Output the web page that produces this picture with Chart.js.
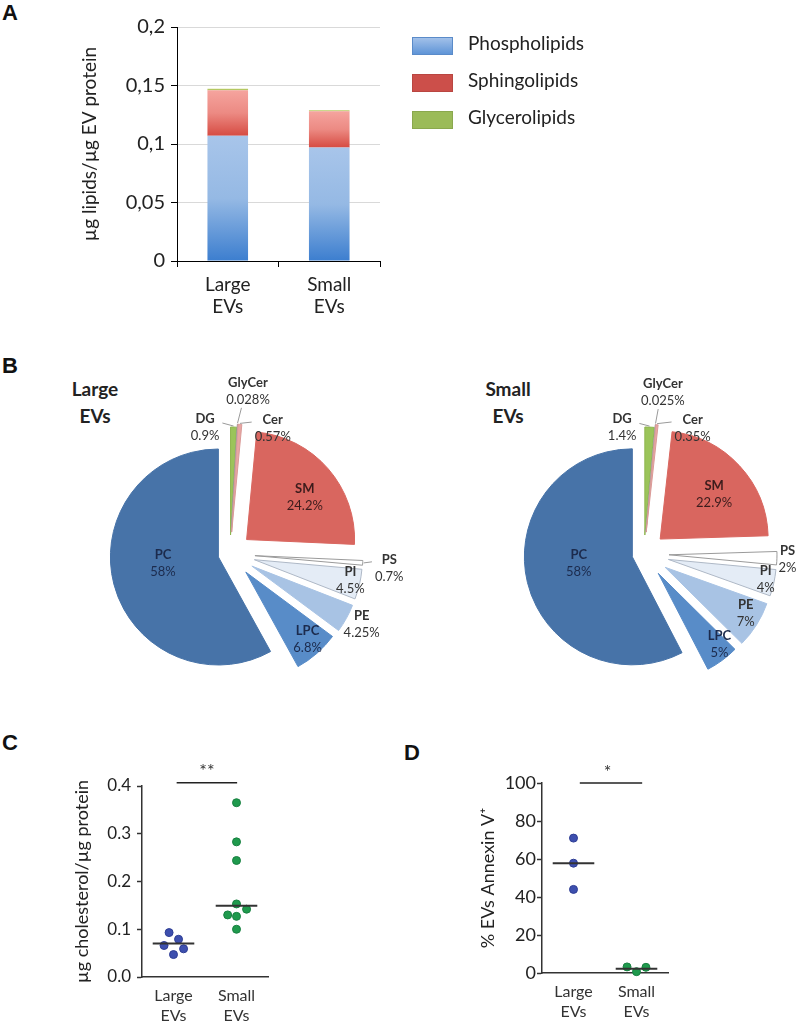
<!DOCTYPE html>
<html><head><meta charset="utf-8">
<script src="https://cdn.jsdelivr.net/npm/chart.js@4"></script>
<style>
html,body{margin:0;padding:0;background:#fff;}
body{width:800px;height:1023px;position:relative;overflow:hidden;font-family:Lato,'Open Sans',sans-serif;}
canvas{position:absolute;}
.lbl{position:absolute;font-weight:bold;font-size:22px;line-height:22px;color:#111;font-family:'Liberation Sans',Arial,sans-serif;}
.ptitle{position:absolute;font-weight:bold;font-size:19px;line-height:27px;text-align:center;width:120px;color:#222;font-family:Lato,'Open Sans',sans-serif;}
</style></head>
<body>
<div class="lbl" style="left:2px;top:2px">A</div>
<div class="lbl" style="left:2px;top:355px">B</div>
<div class="lbl" style="left:2px;top:732px">C</div>
<div class="lbl" style="left:404px;top:742px">D</div>
<div class="ptitle" style="left:35px;top:375px">Large<br>EVs</div>
<div class="ptitle" style="left:448px;top:375px">Small<br>EVs</div>
<canvas id="cA" width="800" height="330" style="left:0;top:0"></canvas>
<canvas id="cB1" width="430" height="380" style="left:0;top:330px"></canvas>
<canvas id="cB2" width="400" height="380" style="left:400px;top:330px"></canvas>
<canvas id="cC" width="400" height="313" style="left:0;top:710px"></canvas>
<canvas id="cD" width="400" height="313" style="left:400px;top:710px"></canvas>
<script>
// ---------- DATA ----------
// Panel A
const barCategories = [['Large', 'EVs'], ['Small', 'EVs']];
const seriesNames = ['Phospholipids', 'Sphingolipids', 'Glycerolipids'];
const phospholipids = [0.107, 0.097];
const sphingolipids = [0.039, 0.031];
const glycerolipids = [0.0012, 0.0009];
const yTicksA = ['0', '0,05', '0,1', '0,15', '0,2'];

// Panel B
const lipidClasses = ['DG', 'GlyCer', 'Cer', 'SM', 'PS', 'PI', 'PE', 'LPC', 'PC'];
const largeEVsPct = [0.9, 0.028, 0.57, 24.2, 0.7, 4.5, 4.25, 6.8, 58];
const smallEVsPct = [1.4, 0.025, 0.35, 22.9, 2, 4, 7, 5, 58];

// Panel C
const groupLabels = [['Large', 'EVs'], ['Small', 'EVs']];
const cholLarge = [0.093, 0.079, 0.066, 0.059, 0.047];
const cholLargeJitter = [-0.07, 0.08, -0.15, 0.16, 0];
const cholSmall = [0.365, 0.283, 0.244, 0.153, 0.142, 0.130, 0.127, 0.100];
const cholSmallJitter = [0, 0, 0, 0, 0.16, -0.14, 0, 0];
const cholMedians = [0.070, 0.149];
const cholSignificance = '**';
const yTicksC = ['0.0', '0.1', '0.2', '0.3', '0.4'];

// Panel D
const annexLarge = [71, 57.8, 44];
const annexLargeJitter = [0, 0, 0];
const annexSmall = [3.2, 0.7, 3.0];
const annexSmallJitter = [-0.15, 0, 0.15];
const annexMedians = [57.7, 2.3];
const annexSignificance = '*';
const yTicksD = ['0', '20', '40', '60', '80', '100'];

// ---------- STYLE ----------
const FONT = "Lato, 'Open Sans', sans-serif";
Chart.defaults.font.family = FONT;
Chart.defaults.color = '#222';
Chart.defaults.animation = false;
Chart.defaults.responsive = false;
Chart.defaults.devicePixelRatio = 1;
Chart.defaults.plugins.legend.display = false;
Chart.defaults.plugins.tooltip.enabled = false;

const barSeries = [phospholipids, sphingolipids, glycerolipids];
const segmentStops = [
  ['#a8c5ea', '#95b9e4', '#3c7ecf'],
  ['#f5a49e', '#ec8a83', '#d64b42'],
  ['#c2cf6a', '#b5c862', '#9bbb59']
];
const legendColors = [['#a6c3ea', '#5b92d6'], ['#cc4f4a', '#cc4f4a'], ['#9bbb59', '#9bbb59']];
const legendBorders = ['#5a8bc9', '#b94641', '#8aa84e'];

function segGradient(c, k) {
  const chart = c.chart;
  const stops = segmentStops[k];
  const y = chart.scales && chart.scales.y;
  if (!y || c.dataIndex === undefined || !chart.chartArea) return stops[1];
  let base = 0;
  for (let j = 0; j < k; j++) base += barSeries[j][c.dataIndex];
  const top = base + barSeries[k][c.dataIndex];
  const yTop = y.getPixelForValue(top), yBot = y.getPixelForValue(base);
  if (!isFinite(yTop) || !isFinite(yBot) || yBot - yTop < 1) return stops[2];
  const g = chart.ctx.createLinearGradient(0, yTop, 0, yBot);
  g.addColorStop(0, stops[0]); g.addColorStop(0.5, stops[1]); g.addColorStop(1, stops[2]);
  return g;
}

const legendPlugin = {
  id: 'customLegend',
  afterDraw(chart) {
    const ctx = chart.ctx;
    const boxX = 412, boxW = 41, boxH = 18, textX = 468;
    const rows = [37, 74, 111];
    chart.data.datasets.forEach((ds, i) => {
      const y0 = rows[i];
      const g = ctx.createLinearGradient(0, y0, 0, y0 + boxH);
      g.addColorStop(0, legendColors[i][0]); g.addColorStop(1, legendColors[i][1]);
      ctx.save();
      ctx.fillStyle = g;
      ctx.fillRect(boxX, y0, boxW, boxH);
      ctx.strokeStyle = legendBorders[i]; ctx.lineWidth = 1;
      ctx.strokeRect(boxX + 0.5, y0 + 0.5, boxW - 1, boxH - 1);
      ctx.fillStyle = '#222';
      ctx.font = '19px ' + FONT;
      ctx.textBaseline = 'middle';
      ctx.textAlign = 'left';
      ctx.fillText(ds.label, textX, y0 + boxH / 2 - 2);
      ctx.restore();
    });
  }
};

new Chart(document.getElementById('cA'), {
  type: 'bar',
  data: {
    labels: barCategories,
    datasets: seriesNames.map((name, k) => ({
      label: name,
      data: barSeries[k],
      backgroundColor: c => segGradient(c, k),
      barPercentage: 0.4,
      categoryPercentage: 1
    }))
  },
  options: {
    layout: { padding: { top: 27, right: 420, left: 0, bottom: 0 } },
    scales: {
      x: {
        stacked: true,
        grid: { display: true, drawOnChartArea: false, tickLength: 6, tickColor: '#000', offset: true },
        border: { color: '#000', width: 1 },
        ticks: { font: { size: 19, lineHeight: 1.17 }, color: '#222', padding: 7 },
        afterFit: s => { s.height = 69; }
      },
      y: {
        stacked: true, min: 0, max: 0.2,
        ticks: { stepSize: 0.05, font: { size: 20 }, color: '#222', padding: 6, callback: (v, i) => yTicksA[i] },
        grid: { color: c => (c.tick && c.tick.value === 0) ? 'rgba(0,0,0,0)' : '#d9d9d9', tickColor: '#000', tickLength: 6 },
        border: { color: '#000', width: 1 },
        title: { display: true, text: 'µg lipids/µg EV protein', font: { size: 19 }, color: '#222', padding: { top: 78, bottom: 0 } },
        afterFit: s => { s.width = 177; }
      }
    }
  },
  plugins: [legendPlugin]
});

// ---------- PIES ----------
const sliceColors = ['#9bc45a', '#c4c4c4', '#e8a6a3', '#d9665f', '#ffffff', '#e4ecf6', '#a8c3e4', '#588cc8', '#4773a8'];
const sliceBorders = ['#8fb550', '#9a9a9a', '#d99a97', '#d9665f', '#9a9a9a', '#aeb8c6', '#a8c3e4', '#588cc8', '#4773a8'];
const explodeLarge = [19, 22, 22, 22, 25, 25, 25, 24, 12];
const explodeSmall = [19, 22, 22, 22, 25, 25, 25, 24, 12];
const dark = '#1c2b4d';
const labelsLarge = [
  { f: 1.20, s: -12.7, leader: true }, { f: 1.52, s: 3, leader: true }, { f: 1.23, s: 14.4, leader: true },
  { f: 0.87, s: 3.8, color: '#3c1c1c' }, { f: 1.48, s: 1.2, leader: true }, { f: 1.14, s: -1 },
  { f: 1.38, s: -1 }, { f: 1.07, s: -1, color: dark }, { f: 0.626, s: 6.8, color: dark }
];
const labelsSmall = [
  { f: 1.19, s: -12.3, leader: true }, { f: 1.51, s: 1.6, leader: true }, { f: 1.25, s: 15.4, leader: true },
  { f: 0.85, s: 2.5, color: '#3c1c1c' }, { f: 1.33, s: 0.2 }, { f: 1.15, s: -1 },
  { f: 1.09, s: -2 }, { f: 1.09, s: -3.5, color: dark }, { f: 0.61, s: 5.9, color: dark }
];

function explodeArcs(amounts) {
  return {
    id: 'explodeArcs',
    afterUpdate(chart) {
      chart.getDatasetMeta(0).data.forEach((arc, i) => {
        arc._explode = amounts[i] || 0;
        if (arc._patched) return;
        const orig = arc.draw;
        arc.draw = function (ctx) {
          const mid = (this.startAngle + this.endAngle) / 2;
          ctx.save();
          ctx.translate(Math.cos(mid) * this._explode, Math.sin(mid) * this._explode);
          orig.call(this, ctx);
          ctx.restore();
        };
        arc._patched = true;
      });
    }
  };
}

function pieLabels(values, cfg) {
  return {
    id: 'pieLabels',
    afterDatasetsDraw(chart) {
      const ctx = chart.ctx;
      chart.getDatasetMeta(0).data.forEach((arc, i) => {
        const c = cfg[i];
        const mid = (arc.startAngle + arc.endAngle) / 2;
        const a = mid + c.s * Math.PI / 180;
        const r = arc.outerRadius;
        const lx = arc.x + Math.cos(a) * c.f * r;
        const ly = arc.y + Math.sin(a) * c.f * r;
        const name = chart.data.labels[i];
        const val = values[i] + '%';
        ctx.save();
        ctx.font = 'bold 13px ' + FONT;
        const w1 = ctx.measureText(name).width;
        ctx.font = '13px ' + FONT;
        const w2 = ctx.measureText(val).width;
        if (c.leader) {
          const ex = arc._explode || 0;
          const p0x = arc.x + Math.cos(mid) * (ex + r + 1);
          const p0y = arc.y + Math.sin(mid) * (ex + r + 1);
          const tx = lx, ty = ly - 8.5;
          const W = Math.max(w1, w2) / 2 + 3;
          const L = lx - W, R = lx + W, T = ly - 17, B = ly + 17;
          const dx = tx - p0x, dy = ty - p0y;
          let tX = 0, tY = 0;
          if (p0x < L && dx) tX = (L - p0x) / dx; else if (p0x > R && dx) tX = (R - p0x) / dx;
          if (p0y < T && dy) tY = (T - p0y) / dy; else if (p0y > B && dy) tY = (B - p0y) / dy;
          const t = Math.min(1, Math.max(tX, tY));
          ctx.strokeStyle = '#9a9a9a'; ctx.lineWidth = 1;
          ctx.beginPath(); ctx.moveTo(p0x, p0y); ctx.lineTo(p0x + dx * t, p0y + dy * t); ctx.stroke();
        }
        ctx.fillStyle = c.color || '#333';
        ctx.textAlign = 'center'; ctx.textBaseline = 'middle';
        ctx.font = 'bold 13px ' + FONT;
        ctx.fillText(name, lx, ly - 8.5);
        ctx.font = '13px ' + FONT;
        ctx.fillText(val, lx, ly + 8.5);
        ctx.restore();
      });
    }
  };
}

function pie(id, values, explode, labelCfg, padding) {
  return new Chart(document.getElementById(id), {
    type: 'pie',
    data: {
      labels: lipidClasses,
      datasets: [{ data: values, backgroundColor: sliceColors, borderColor: sliceBorders, borderWidth: 1, clip: false }]
    },
    options: { radius: 108, layout: { padding } },
    plugins: [explodeArcs(explode), pieLabels(values, labelCfg)]
  });
}
pie('cB1', largeEVsPct, explodeLarge, labelsLarge, { left: 60, right: 30, top: 68, bottom: 0 });
pie('cB2', smallEVsPct, explodeSmall, labelsSmall, { left: 88, right: 0, top: 68, bottom: 0 });

// ---------- DOT PLOTS ----------
const MED_HALF = 0.33;
function medianLine(g, m) { return [{ x: g - MED_HALF, y: m }, { x: g + MED_HALF, y: m }]; }
function points(vals, jit, g) { return vals.map((v, i) => ({ x: g + jit[i], y: v })); }
function starPlugin(text, xVal, yVal) {
  return {
    id: 'stars',
    afterDatasetsDraw(chart) {
      const ctx = chart.ctx;
      ctx.save();
      ctx.fillStyle = '#333'; ctx.font = '18px ' + FONT;
      ctx.textAlign = 'center'; ctx.textBaseline = 'middle';
      ctx.fillText(text, chart.scales.x.getPixelForValue(xVal), chart.scales.y.getPixelForValue(yVal) - 11);
      ctx.restore();
    }
  };
}

function dotPlot(id, o) {
  const lineDs = (data, w, col) => ({ type: 'line', data, borderColor: col, borderWidth: w, pointRadius: 0, clip: false, fill: false });
  return new Chart(document.getElementById(id), {
    type: 'scatter',
    data: {
      datasets: [
        lineDs(medianLine(1, o.medians[0]), 2, '#333'),
        lineDs(medianLine(2, o.medians[1]), 2, '#333'),
        lineDs([{ x: o.sig[0], y: o.sigY }, { x: o.sig[1], y: o.sigY }], 1.5, '#222'),
        { label: 'Large EVs', data: points(o.large, o.largeJ, 1), backgroundColor: '#3d4fae', borderColor: '#2e3d94', borderWidth: 1, pointRadius: 4, clip: false },
        { label: 'Small EVs', data: points(o.small, o.smallJ, 2), backgroundColor: '#1f9a4d', borderColor: '#178040', borderWidth: 1, pointRadius: 4, clip: false }
      ]
    },
    options: {
      layout: { padding: { top: o.top, right: 132, left: 0, bottom: 0 } },
      scales: {
        x: {
          type: 'linear', min: 0.5, max: 2.5,
          afterBuildTicks: s => { s.ticks = groupLabels.map((_, i) => ({ value: i + 1 })); },
          ticks: { callback: v => groupLabels[Math.round(v) - 1], font: { size: 16, lineHeight: 1.25 }, color: '#333', padding: 1, autoSkip: false, maxRotation: 0 },
          grid: { display: false },
          border: { color: '#333', width: 1.5 },
          afterFit: s => { s.height = o.xh; }
        },
        y: {
          min: 0, max: o.max,
          ticks: { stepSize: o.step, callback: (v, i) => o.ticks[i], font: { size: o.tickSize }, color: '#222', padding: o.tickPad },
          grid: { drawOnChartArea: false, tickLength: 5, tickColor: '#333', tickWidth: 1.5 },
          border: { color: '#333', width: 1.5 },
          title: { display: true, text: o.title, font: { size: 18 }, color: '#222', padding: { top: o.titlePad, bottom: 0 } },
          afterFit: s => { s.width = 142; }
        }
      }
    },
    plugins: [starPlugin(o.star, o.starX, o.sigY)]
  });
}

dotPlot('cC', {
  large: cholLarge, largeJ: cholLargeJitter, small: cholSmall, smallJ: cholSmallJitter, medians: cholMedians,
  sig: [1.05, 2.01], sigY: 0.407, star: cholSignificance, starX: 1.53,
  max: 0.4, step: 0.1, ticks: yTicksC, tickSize: 17, tickPad: 6,
  title: 'µg cholesterol/µg protein', titlePad: 71, top: 76, xh: 46
});
dotPlot('cD', {
  large: annexLarge, largeJ: annexLargeJitter, small: annexSmall, smallJ: annexSmallJitter, medians: annexMedians,
  sig: [1.10, 2.09], sigY: 100, star: annexSignificance, starX: 1.54,
  max: 100, step: 20, ticks: yTicksD, tickSize: 18, tickPad: 1,
  title: '% EVs Annexin V\u207A', titlePad: 77, top: 73, xh: 50
});
</script>
</body></html>
